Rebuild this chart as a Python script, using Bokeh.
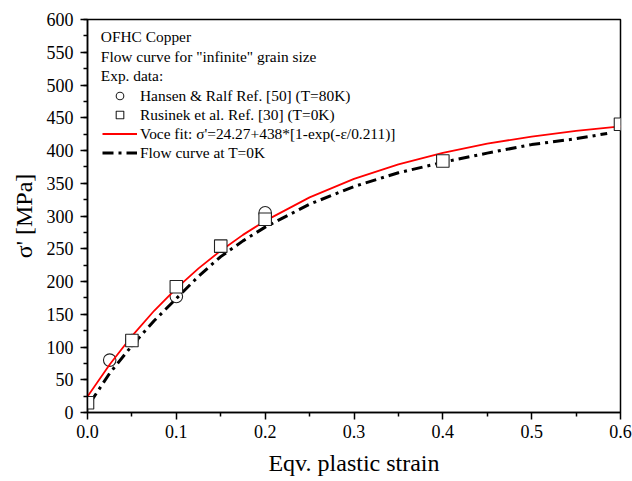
from bokeh.plotting import figure
from bokeh.models import (Range1d, SingleIntervalTicker, FixedTicker, NumeralTickFormatter,
                          Legend, LegendItem, Label)
from bokeh.embed import file_html
from bokeh.resources import INLINE

# Experimental data
hansen_strain = [0.025, 0.05, 0.1, 0.2]
hansen_stress = [80, 110, 177, 305]
rusinek_strain = [0.0, 0.05, 0.1, 0.15, 0.2, 0.4, 0.6]
rusinek_stress = [15, 110, 192, 254, 295, 384, 440]

# Voce fit curve
voce_strain = [0.0, 0.025, 0.05, 0.075, 0.1, 0.125, 0.15, 0.175, 0.2, 0.25, 0.3,
               0.35, 0.4, 0.45, 0.5, 0.55, 0.6]
voce_stress = [24.3, 73.2, 116.7, 155.3, 189.6, 220.1, 247.1, 271.2, 292.5, 328.4,
               356.6, 378.9, 396.5, 410.4, 421.3, 430.0, 436.7]

# Flow curve at T=0K
flow_strain = [0.003, 0.025, 0.05, 0.075, 0.1, 0.125, 0.15, 0.175, 0.2, 0.25, 0.3,
               0.35, 0.4, 0.45, 0.5, 0.55, 0.585]
flow_stress = [15, 60, 102, 140, 174, 208, 238, 262, 283, 318, 345,
               366, 382, 396, 409, 418, 426]

x_major_ticks = [0.0, 0.1, 0.2, 0.3, 0.4, 0.5, 0.6]
x_minor_ticks = [0.05, 0.15, 0.25, 0.35, 0.45, 0.55]

header_lines = ["OFHC Copper", 'Flow curve for "infinite" grain size', "Exp. data:"]
header_y = [574, 543.5, 514.5]

SERIF = "Liberation Serif"

p = figure(width=632, height=481, output_backend="svg", toolbar_location=None,
           x_range=Range1d(0, 0.6), y_range=Range1d(0, 600),
           min_border_left=87, min_border_right=12, min_border_top=19,
           min_border_bottom=69)
p.xgrid.visible = False
p.ygrid.visible = False
p.outline_line_color = "black"
p.outline_line_width = 1.5
p.background_fill_color = "white"
p.border_fill_color = "white"

p.xaxis.ticker = FixedTicker(ticks=x_major_ticks, minor_ticks=x_minor_ticks)
p.yaxis.ticker = SingleIntervalTicker(interval=50, num_minor_ticks=2)
p.xaxis.formatter = NumeralTickFormatter(format="0.0")
for ax in (p.xaxis[0], p.yaxis[0]):
    ax.axis_line_width = 1.5
    ax.axis_line_color = "black"
    ax.major_tick_line_width = 1.5
    ax.major_tick_line_color = "black"
    ax.minor_tick_line_width = 1.5
    ax.minor_tick_line_color = "black"
    ax.major_tick_in = 0
    ax.major_tick_out = 7
    ax.minor_tick_in = 0
    ax.minor_tick_out = 4
    ax.major_label_text_font = SERIF
    ax.major_label_text_font_size = "18px"
    ax.major_label_text_color = "black"
    ax.axis_label_text_font = SERIF
    ax.axis_label_text_font_size = "24px"
    ax.axis_label_text_font_style = "normal"
    ax.axis_label_text_color = "black"
p.xaxis.major_label_standoff = 5
p.yaxis.major_label_standoff = 7
p.yaxis.axis_label = "σ' [MPa]"
p.yaxis.axis_label_standoff = 7
p.xaxis.axis_label = "Eqv. plastic strain"
p.xaxis.axis_label_standoff = 9

circ = p.scatter(hansen_strain, hansen_stress, marker="circle", size=12.5,
                 fill_color=None, line_color="#222222", line_width=1.1)
voce = p.line(voce_strain, voce_stress, line_color="#ff0000", line_width=1.8)
flow = p.line(flow_strain, flow_stress, line_color="black", line_width=3,
              line_dash="11 5 3 5")
sq = p.scatter(rusinek_strain, rusinek_stress, marker="square", size=12.5,
               fill_color="white", line_color="#222222", line_width=1.1)

legend = Legend(items=[
    LegendItem(label="Hansen & Ralf Ref. [50] (T=80K)", renderers=[circ]),
    LegendItem(label="Rusinek et al. Ref. [30] (T=0K)", renderers=[sq]),
    LegendItem(label="Voce fit: σ'=24.27+438*[1-exp(-ε/0.211)]", renderers=[voce]),
    LegendItem(label="Flow curve at T=0K", renderers=[flow]),
], location=(15, 250))
legend.padding = 0
legend.margin = 0
legend.spacing = 0
legend.glyph_width = 35
legend.glyph_height = 19
legend.label_height = 19
legend.label_standoff = 3
legend.border_line_color = None
legend.background_fill_alpha = 0
legend.label_text_font = SERIF
legend.label_text_font_size = "15.4px"
legend.label_text_color = "black"
p.add_layout(legend)

for txt, yy in zip(header_lines, header_y):
    p.add_layout(Label(x=0.015, y=yy, text=txt, text_font=SERIF,
                       text_font_size="15.4px", text_baseline="middle",
                       text_color="black"))

open("out.html", "w").write(file_html(p, INLINE))
